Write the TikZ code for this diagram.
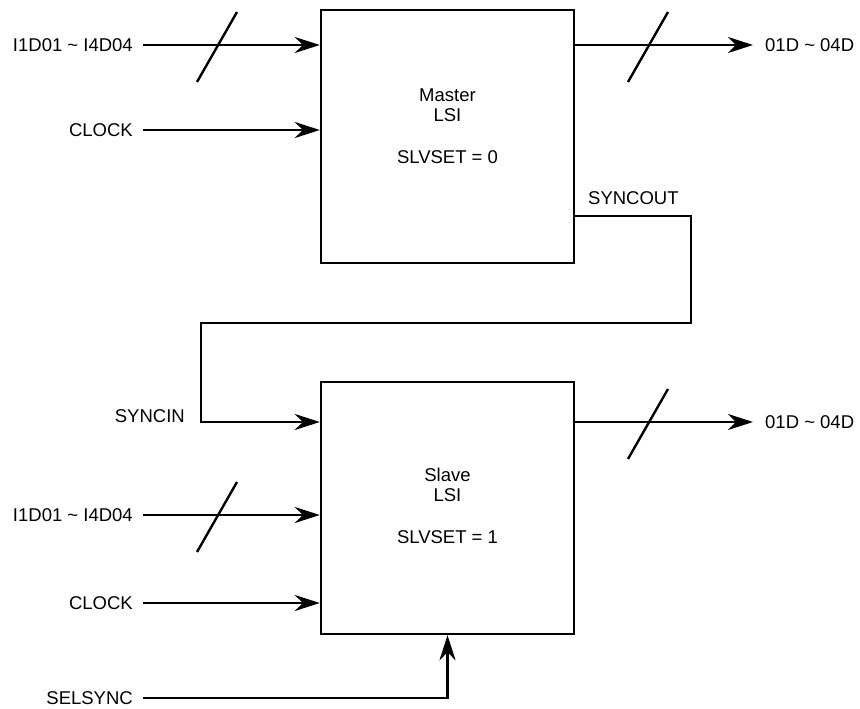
\documentclass[tikz,border=0pt]{standalone}
\usepackage{fontspec}
\setmainfont{Liberation Sans}
\usetikzlibrary{arrows.meta}

\begin{document}
\begin{tikzpicture}[
  x=1pt, y=-1pt,
  >={Stealth[length=25pt, width=16pt, inset=8pt]},
  every node/.style={font=\fontsize{18.5}{21}\selectfont},
  wire/.style={line width=2.4pt},
  lsi/.style={draw, line width=2.4pt, inner sep=0pt,
              minimum width=253pt, minimum height=253pt},
  inlabel/.style={anchor=east, inner xsep=10pt, inner ysep=0pt},
  outlabel/.style={anchor=west, inner xsep=12pt, inner ysep=0pt},
]
\useasboundingbox (0,0) rectangle (860,709);

% Master LSI
\node[lsi] (master) at (447.5,136.5) {};
\node (mname) at (447.5,105) [align=center] {Master\\[-1pt]LSI};
\node (mset) at (447.5,157) {SLVSET = 0};

% Slave LSI
\node[lsi, minimum height=252pt] (slave) at (447.5,508) {};
\node (sname) at (447.5,485) [align=center] {Slave\\[-1pt]LSI};
\node (sset) at (447.5,537) {SLVSET = 1};

% inputs of the master
\node[inlabel] (mdin) at (143,45) {I1D01 \~{} I4D04};
\node[inlabel] (mclk) at (143,130) {CLOCK};
\draw[wire, ->] (mdin.east) -- (master.west |- mdin.east);
\draw[wire, ->] (mclk.east) -- (master.west |- mclk.east);
\draw[wire] (217,47) ++(-20,35) -- ++(40,-70);

% output of the master
\node[outlabel] (mdout) at (753,45) {01D \~{} 04D};
\draw[wire, ->] (master.east |- mdout.west) -- (mdout.west);
\draw[wire] (648,47) ++(-20,35) -- ++(40,-70);

% sync wire
\node[anchor=west, inner sep=0pt] (syncout) at (588,198) {SYNCOUT};
\node[anchor=east, inner sep=0pt] (syncin) at (185,416) {SYNCIN};
\draw[wire, ->] (master.east |- 0,216) -- (691,216) |- (201,323)
  |- (slave.west |- 0,422);

% inputs of the slave
\node[inlabel] (sdin) at (143,515) {I1D01 \~{} I4D04};
\node[inlabel] (sclk) at (143,603) {CLOCK};
\node[inlabel] (selsync) at (143,698) {SELSYNC};
\draw[wire, ->] (sdin.east) -- (slave.west |- sdin.east);
\draw[wire, ->] (sclk.east) -- (slave.west |- sclk.east);
\draw[wire, ->] (selsync.east) -| (slave.south);
\draw[wire] (217,517) ++(-20,35) -- ++(40,-70);

% output of the slave
\node[outlabel] (sdout) at (753,422) {01D \~{} 04D};
\draw[wire, ->] (slave.east |- sdout.west) -- (sdout.west);
\draw[wire] (648,424) ++(-20,35) -- ++(40,-70);

\end{tikzpicture}
\end{document}
